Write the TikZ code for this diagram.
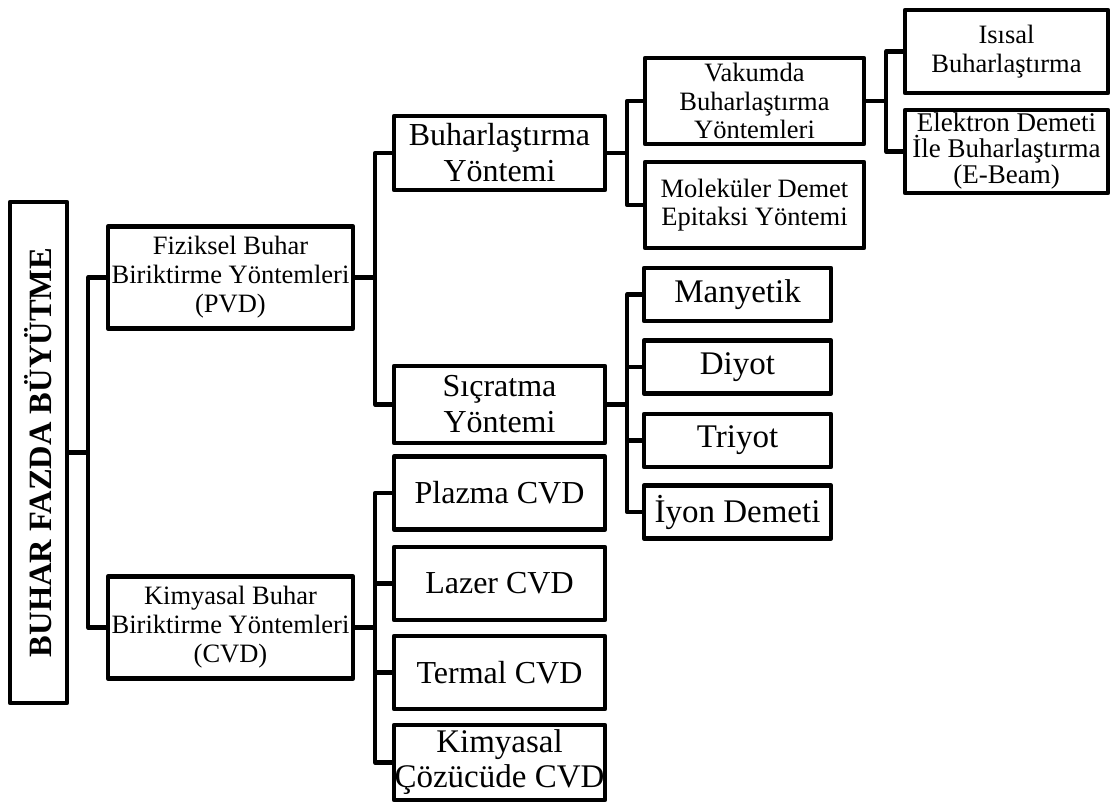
\documentclass[tikz,border=0pt]{standalone}
\usepackage{fontspec}
\setmainfont{Liberation Serif}
\begin{document}
\begin{tikzpicture}[x=1pt, y=-1pt, line width=4.4pt, line join=round,
 every node/.style={align=center, inner sep=0pt},
 root/.style={draw, rotate=90, minimum width=501pt, minimum height=57pt, font=\bfseries\fontsize{32.5}{36}\selectfont},
 group/.style={draw, minimum width=245pt, minimum height=102pt, font=\fontsize{26.5}{29}\selectfont},
 method/.style={draw, minimum width=211pt, minimum height=73pt, font=\fontsize{32}{36}\selectfont},
 sub/.style={draw, minimum width=219pt, minimum height=86pt, font=\fontsize{26.5}{28.5}\selectfont},
 leaf/.style={draw, minimum width=187pt, minimum height=53pt, font=\fontsize{33}{36}\selectfont},
 far/.style={draw, minimum width=203pt, minimum height=83pt, font=\fontsize{26.5}{29}\selectfont}]
\useasboundingbox (0,0) rectangle (1117,803);
% root and the two families
\node[root] (root) at (38.5,452.5) {BUHAR FAZDA BÜYÜTME};
\node[group] (pvd) at (230.5,277.5) {Fiziksel Buhar\\Biriktirme Yöntemleri\\(PVD)};
\node[group] (cvd) at (230.5,627.5) {Kimyasal Buhar\\Biriktirme Yöntemleri\\(CVD)};
% PVD methods
\node[method, minimum height=74pt] (buh) at (499.5,153) {Buharlaştırma\\Yöntemi};
\node[method, minimum height=77pt] (sic) at (499.5,404.5) {Sıçratma\\Yöntemi};
\node[sub] (vak) at (754.5,101) {Vakumda\\Buharlaştırma\\Yöntemleri};
\node[sub] (mbe) at (754.5,205) {Moleküler Demet\\Epitaksi Yöntemi};
\node[far] (isi) at (1006.5,51.5) {Isısal\\Buharlaştırma};
\node[far, font=\fontsize{27}{26}\selectfont] (ebm) at (1006.5,151.5) {Elektron Demeti\\İle Buharlaştırma\\(E-Beam)};
\node[leaf] (man) at (737.5,294.5) {Manyetik};
\node[leaf] (diy) at (737.5,367) {Diyot};
\node[leaf] (tri) at (737.5,440.5) {Triyot};
\node[leaf] (iyo) at (737.5,512) {İyon Demeti};
% CVD methods
\node[method] (pla) at (499.5,493) {Plazma CVD};
\node[method] (laz) at (499.5,583.5) {Lazer CVD};
\node[method] (ter) at (499.5,672.5) {Termal CVD};
\node[method, minimum height=75pt, font=\fontsize{33}{35}\selectfont] (coz) at (499.5,762.5) {Kimyasal\\Çözücüde CVD};
% connectors
\foreach \c in {pvd,cvd} \draw (root.south) -- ++(19,0) |- (\c.west);
\foreach \c in {buh,sic} \draw (pvd.east) -- ++(20,0) |- (\c.west);
\foreach \c in {pla,laz,ter,coz} \draw (cvd.east) -- ++(20,0) |- (\c.west);
\foreach \c in {vak,mbe} \draw (buh.east) -- ++(20,0) |- (\c.west);
\foreach \c in {isi,ebm} \draw (vak.east) -- ++(20,0) |- (\c.west);
\foreach \c in {man,diy,tri,iyo} \draw (sic.east) -- ++(20,0) |- (\c.west);
\end{tikzpicture}
\end{document}
